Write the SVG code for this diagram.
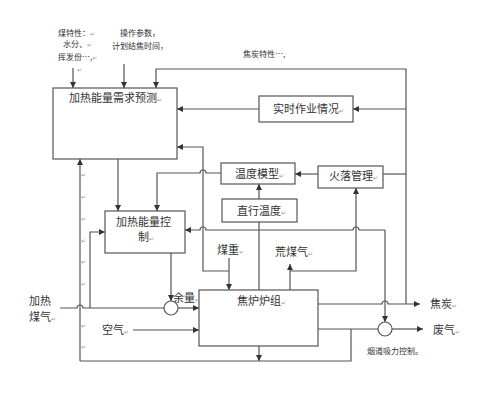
<svg xmlns="http://www.w3.org/2000/svg" width="500" height="400" viewBox="0 0 500 400">
<style>
.box{fill:#fff;stroke:#555;stroke-width:1.2}
.ln{fill:none;stroke:#555;stroke-width:1.2}
.t{font-family:"Noto Sans CJK SC","Noto Sans",sans-serif;font-size:11px;fill:#333}
.s{font-family:"Noto Sans CJK SC","Noto Sans",sans-serif;font-size:8px;fill:#333}
.pm{font-family:"DejaVu Sans",sans-serif;font-size:6px;fill:#999}
</style>
<defs>
<marker id="a" markerUnits="userSpaceOnUse" markerWidth="6" markerHeight="6" refX="6" refY="3" orient="auto">
<path d="M0,0 L6,3 L0,6 z" fill="#333"/>
</marker>
</defs>
<rect width="500" height="400" fill="#fff"/>

<g id="connectors" class="ln">
<path d="M73,68 V88" marker-end="url(#a)"/>
<path d="M124,64 V88" marker-end="url(#a)"/>
<path d="M406,304 V69 H156 V88" marker-end="url(#a)"/>
<path d="M406,109 H353" marker-end="url(#a)"/>
<path d="M259,109 H177" marker-end="url(#a)"/>
<path d="M406,174 H383"/>
<path d="M318,174 H295" marker-end="url(#a)"/>
<path d="M259,199 V184" marker-end="url(#a)"/>
<path d="M259,290 V222"/>
<path d="M118,159 V211" marker-end="url(#a)"/>
<path d="M221,173 H206 A3,3 0 0 0 200,173 H157 V211" marker-end="url(#a)"/>
<path d="M229,271 H203 V147 H177" marker-end="url(#a)"/>
<path d="M229,258 V290" marker-end="url(#a)"/>
<path d="M290,290 V264" marker-end="url(#a)"/>
<path d="M290,271 H356 V188" marker-end="url(#a)"/>
<path d="M385,230 H359 A3,3 0 0 0 353,230 H206 A3,3 0 0 0 200,230 H185" marker-end="url(#a)"/>
<path d="M385,230 V322" marker-end="url(#a)"/>
<path d="M171,253 V301" marker-end="url(#a)"/>
<path d="M60,308 H77 A3,3 0 0 1 83,308 H164"/>
<path d="M178,308 H199" marker-end="url(#a)"/>
<path d="M90,308 V232 H105" marker-end="url(#a)"/>
<path d="M80,361 V159" marker-end="url(#a)"/>
<path d="M133,330 H199" marker-end="url(#a)"/>
<path d="M259,346 V361" marker-end="url(#a)"/>
<path d="M318,329 H378"/>
<path d="M392,329 H423" marker-end="url(#a)"/>
<path d="M351,329 V361 H80"/>
<path d="M318,304 H382 A3,3 0 0 1 388,304 H420" marker-end="url(#a)"/>
</g>

<g id="predict">
<rect class="box" x="53" y="88" width="124" height="71"/>
<text class="t" x="69" y="102">加热能量需求预测<tspan class="pm">↵</tspan></text>
</g>
<g id="realtime">
<rect class="box" x="259" y="96" width="94" height="26"/>
<text class="t" x="273" y="113">实时作业情况<tspan class="pm">↵</tspan></text>
</g>
<g id="tempmodel">
<rect class="box" x="221" y="163" width="74" height="21"/>
<text class="t" x="235" y="178">温度模型<tspan class="pm">↵</tspan></text>
</g>
<g id="fire">
<rect class="box" x="318" y="166" width="65" height="22"/>
<text class="t" x="329" y="180">火落管理<tspan class="pm">↵</tspan></text>
</g>
<g id="straight">
<rect class="box" x="222" y="199" width="75" height="23"/>
<text class="t" x="237" y="215">直行温度<tspan class="pm">↵</tspan></text>
</g>
<g id="control">
<rect class="box" x="105" y="211" width="80" height="42"/>
<text class="t" x="116" y="226">加热能量控</text>
<text class="t" x="138" y="241">制<tspan class="pm">↵</tspan></text>
</g>
<g id="oven">
<rect class="box" x="199" y="290" width="119" height="56"/>
<text class="t" x="237" y="305">焦炉炉组<tspan class="pm">↵</tspan></text>
</g>
<g id="valve1">
<text class="t" x="173" y="302">余量<tspan class="pm">↵</tspan></text>
<circle class="box" cx="171" cy="308" r="7"/>
</g>
<g id="valve2">
<circle class="box" cx="385" cy="329" r="7"/>
<text class="s" x="367" y="354">烟道吸力控制。</text>
</g>

<g id="labels">
<text class="s" x="58" y="36">煤特性：<tspan class="pm">↵</tspan></text>
<text class="s" x="63" y="47">水分、<tspan class="pm">↵</tspan></text>
<text class="s" x="58" y="60">挥发份…,<tspan class="pm">↵</tspan></text>
<text class="s" x="120" y="36">操作参数，</text>
<text class="s" x="112" y="49">计划结焦时间，</text>
<text class="s" x="243" y="57">焦炭特性…,</text>
<text class="t" x="217" y="254">煤重<tspan class="pm">↵</tspan></text>
<text class="t" x="275" y="256">荒煤气<tspan class="pm">↵</tspan></text>
<text class="t" x="29" y="305">加热</text>
<text class="t" x="29" y="321">煤气<tspan class="pm">↵</tspan></text>
<text class="t" x="102" y="334">空气<tspan class="pm">↵</tspan></text>
<text class="t" x="430" y="308">焦炭<tspan class="pm">↵</tspan></text>
<text class="t" x="433" y="334">废气<tspan class="pm">↵</tspan></text>
</g>
<g id="marks" class="pm">
<text x="77" y="72">↵</text>
<text x="81" y="177">↵</text>
<text x="81" y="199">↵</text>
<text x="81" y="221">↵</text>
<text x="81" y="243">↵</text>
<text x="81" y="264">↵</text>
<text x="81" y="286">↵</text>
<text x="81" y="328">↵</text>
<text x="81" y="349">↵</text>
</g>
</svg>
